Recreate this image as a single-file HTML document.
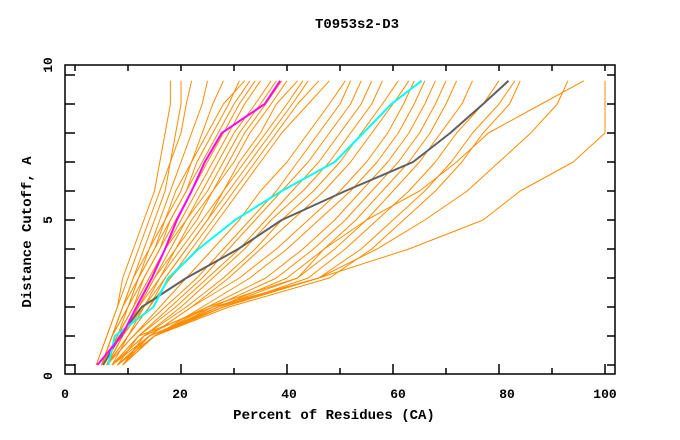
<!DOCTYPE html>
<html><head><meta charset="utf-8"><style>
html,body{margin:0;padding:0;background:#fff;}
svg{display:block;font-family:"Liberation Mono",monospace;font-weight:bold;}
</style></head><body>
<svg id="chart" width="680" height="440" viewBox="0 0 680 440">
<text x="357" y="28" font-size="14" text-anchor="middle">T0953s2-D3</text>
<text x="334" y="419" font-size="14" text-anchor="middle">Percent of Residues (CA)</text>
<text x="0" y="0" font-size="14" text-anchor="middle" transform="translate(31,232) rotate(-90)">Distance Cutoff, A</text>
<g id="series"></g>
<g id="axes"></g>
</svg>
<script>
const yLevels = [0,1,2,3,4,5,6,7,8,9,9.8];
const orangeSeries = [
[4,6,8,9,11,13,15,16,17,18,18],
[4,6,8,10,12,14,16,18,19,20,20],
[5,7,9,11,13,15,17,18,20,21,22],
[5,7,9,11,14,16,18,20,22,24,25],
[5,7,10,12,15,17,20,22,25,28,32],
[5,8,10,13,16,18,21,24,27,30,33],
[5,8,11,14,17,20,23,26,29,32,35],
[6,8,11,14,17,21,24,27,30,34,37],
[6,9,12,15,18,21,25,28,31,35,38],
[6,9,12,16,19,23,26,30,33,37,40],
[6,9,13,16,20,24,28,31,35,38,42],
[6,10,13,17,21,25,29,33,37,41,44],
[6,10,14,18,22,26,30,34,38,42,46],
[7,10,14,18,23,27,31,35,39,44,48],
[6,11,16,21,26,31,35,40,44,48,51],
[6,11,17,23,28,33,38,42,46,50,52],
[7,12,18,24,29,34,39,44,48,52,54],
[7,12,19,25,31,36,41,46,50,54,56],
[7,13,20,26,32,37,43,48,52,56,58],
[7,13,21,28,34,39,45,50,54,58,61],
[7,14,22,29,35,41,47,52,56,60,63],
[8,14,22,31,38,44,50,55,59,62,64],
[8,15,24,33,40,46,52,57,61,64,66],
[8,15,25,36,43,49,54,59,63,66,68],
[8,15,26,38,45,51,56,61,65,68,70],
[8,15,27,40,47,53,58,63,67,70,72],
[8,14,27,42,49,55,60,65,69,73,75],
[9,15,28,44,51,57,63,68,72,77,80],
[9,14,28,46,54,60,66,71,75,80,83],
[9,15,29,48,56,62,68,73,77,82,84],
[9,14,27,46,57,66,74,80,86,91,93],
[9,13,25,42,47,55,65,72,78,88,96],
[8,12,26,46,63,77,84,94,100,100,100],
[5,7,9,12,14,17,19,22,24,26,28],
[5,7,10,12,15,18,21,23,26,29,31],
[6,8,11,13,16,19,22,25,28,31,34],
[6,9,12,15,19,22,26,29,32,36,39],
[6,10,14,17,21,25,28,32,36,40,43]
];
const graySeries = [5.3,8.5,12.6,21,30.8,39,51,63.8,70.8,77,81.8];
const cyanSeries = [6.3,7.5,14.8,17.6,23.3,30.2,39,49,54.4,59.7,65.4];
const magentaSeries = [4.2,8.8,11.6,14.5,17,19.2,22,24.5,27.7,35.8,38.7];
const xTickLabels = ["0","20","40","60","80","100"];
const yTickLabels = ["0","5","10"];

const X = v => 75 + 5.3*v;
const Y = v => 365 - 29*v;
const NS = "http://www.w3.org/2000/svg";
const sg = document.getElementById('series');
const ag = document.getElementById('axes');

function line(xs, color, w, name){
  const p = document.createElementNS(NS,'polyline');
  p.setAttribute('points', xs.map((x,i)=>X(x).toFixed(1)+','+Y(yLevels[i]).toFixed(1)).join(' '));
  p.setAttribute('fill','none');
  p.setAttribute('stroke',color);
  p.setAttribute('stroke-width',w);
  p.setAttribute('stroke-linejoin','round');
  
  
  sg.appendChild(p);
}
orangeSeries.forEach((s,i)=>line(s,'#ff8c00',1,'model-line-'+(i+1)));
line(graySeries,'#606060',2,'gray-line');
line(cyanSeries,'#00ffff',2,'cyan-line');
line(magentaSeries,'#ff00ff',2,'magenta-line');

function el(tag, attrs, name){
  const e = document.createElementNS(NS, tag);
  for (const k in attrs) e.setAttribute(k, attrs[k]);
  
  
  ag.appendChild(e);
  return e;
}
el('rect',{x:65,y:65,width:550,height:309,fill:'none',stroke:'#000','stroke-width':1.5},'plot-frame');
for(let v=0; v<=100; v+=10){
  const L = v%20===0 ? 10 : 6;
  el('line',{x1:X(v),x2:X(v),y1:374,y2:374-L,stroke:'#000','stroke-width':1.5},'x-tick');
  el('line',{x1:X(v),x2:X(v),y1:65,y2:65+6,stroke:'#000','stroke-width':1.5},'x-tick-top');
}
for(let v=0; v<=10; v++){
  el('line',{x1:65,x2:75,y1:Y(v),y2:Y(v),stroke:'#000','stroke-width':1.5},'y-tick');
  el('line',{x1:615,x2:607,y1:Y(v),y2:Y(v),stroke:'#000','stroke-width':1.5},'y-tick-right');
}
const xLabelPos = [65,180,289,398,507,605];
xTickLabels.forEach((t,i)=>{
  const e = el('text',{x:xLabelPos[i],y:398,'font-size':13,'text-anchor':'middle'},'x-tick-label');
  e.textContent = t;
});
const yLabelPos = [376,220,65];
yTickLabels.forEach((t,i)=>{
  const e = el('text',{x:0,y:0,'font-size':13,'text-anchor':'middle',transform:'translate(52,'+yLabelPos[i]+') rotate(-90)'},'y-tick-label');
  e.textContent = t;
});
</script>
</body></html>
